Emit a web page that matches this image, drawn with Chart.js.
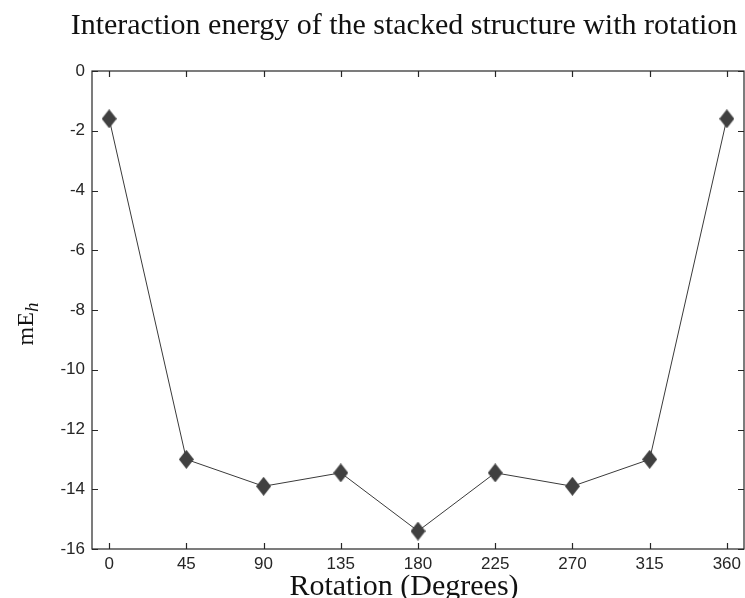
<!DOCTYPE html>
<html>
<head>
<meta charset="utf-8">
<script src="https://cdn.jsdelivr.net/npm/chart.js@4.4.1/dist/chart.umd.min.js"></script>
<style>
  html, body { margin: 0; padding: 0; background: #fff; }
  #myChart { display: block; }
</style>
</head>
<body>
<canvas id="myChart" width="745" height="598"></canvas>
<script>
// rotation angle (degrees) vs interaction energy (mE_h)
const rotations = [0, 45, 90, 135, 180, 225, 270, 315, 360];
const energies = [-1.6, -13.0, -13.9, -13.45, -15.4, -13.45, -13.9, -13.0, -1.6];
const xTicks = [0, 45, 90, 135, 180, 225, 270, 315, 360];
const yTicks = [0, -2, -4, -6, -8, -10, -12, -14, -16];

const titleText = 'Interaction energy of the stacked structure with rotation';
const xTitle = 'Rotation (Degrees)';

const ink = '#262626';
const serif = '"Liberation Serif", "Times New Roman", serif';
const sans = '"Liberation Sans", Arial, sans-serif';

// tall filled diamond marker
function diamond(w, h, color) {
    const c = document.createElement('canvas');
    c.width = w; c.height = h;
    const g = c.getContext('2d');
    g.fillStyle = color;
    g.beginPath();
    g.moveTo(w / 2, 0);
    g.lineTo(w, h / 2);
    g.lineTo(w / 2, h);
    g.lineTo(0, h / 2);
    g.closePath();
    g.fill();
    return c;
}

// box around the plot, inward ticks on all sides, titles
const frame = {
    id: 'frame',
    afterDraw(chart) {
        const { ctx, chartArea: a, scales } = chart;
        const t = 6;
        ctx.save();
        ctx.strokeStyle = ink;
        ctx.lineWidth = 1.2;
        ctx.strokeRect(a.left, a.top, a.right - a.left, a.bottom - a.top);
        ctx.beginPath();
        xTicks.forEach(v => {
            const x = Math.round(scales.x.getPixelForValue(v)) + 0.5;
            ctx.moveTo(x, a.bottom); ctx.lineTo(x, a.bottom - t);
            ctx.moveTo(x, a.top); ctx.lineTo(x, a.top + t);
        });
        yTicks.forEach(v => {
            const y = Math.round(scales.y.getPixelForValue(v)) + 0.5;
            ctx.moveTo(a.left, y); ctx.lineTo(a.left + t, y);
            ctx.moveTo(a.right, y); ctx.lineTo(a.right - t, y);
        });
        ctx.stroke();

        ctx.fillStyle = '#111';
        ctx.textAlign = 'center';
        ctx.textBaseline = 'alphabetic';
        ctx.font = '30px ' + serif;
        ctx.fillText(titleText, 404, 34);
        ctx.fillText(xTitle, 404, 595);

        // y title: mE with italic subscript h
        ctx.translate(33, 324);
        ctx.rotate(-Math.PI / 2);
        ctx.font = '24px ' + serif;
        const w1 = ctx.measureText('mE').width;
        ctx.font = 'italic 19px ' + serif;
        const w2 = ctx.measureText('h').width;
        ctx.textAlign = 'left';
        ctx.font = '24px ' + serif;
        ctx.fillText('mE', -(w1 + w2) / 2, 0);
        ctx.font = 'italic 19px ' + serif;
        ctx.fillText('h', -(w1 + w2) / 2 + w1, 5);
        ctx.restore();
    }
};

const ctx = document.getElementById('myChart').getContext('2d');
const chart = new Chart(ctx, {
    type: 'line',
    data: {
        datasets: [{
            label: 'Interaction energy',
            data: rotations.map((r, i) => ({ x: r, y: energies[i] })),
            borderColor: '#3a3a3a',
            borderWidth: 1,
            pointStyle: diamond(15, 19, '#404040'),
            pointRadius: 9,
            tension: 0,
            clip: false
        }]
    },
    options: {
        responsive: false,
        animation: false,
        layout: { autoPadding: false, padding: { top: 71, right: 1, left: 0, bottom: 0 } },
        plugins: {
            legend: { display: false },
            tooltip: { enabled: false },
            title: { display: false }
        },
        scales: {
            x: {
                type: 'linear',
                min: -10,
                max: 370,
                afterBuildTicks(s) { s.ticks = xTicks.map(v => ({ value: v })); },
                afterFit(s) { s.height = 49; s.paddingLeft = 0; s.paddingRight = 0; },
                grid: { display: false, drawTicks: false },
                border: { display: false },
                ticks: {
                    padding: 5,
                    color: ink,
                    font: { family: sans, size: 17 },
                    maxRotation: 0
                }
            },
            y: {
                min: -16,
                max: 0,
                afterBuildTicks(s) { s.ticks = yTicks.map(v => ({ value: v })); },
                afterFit(s) { s.width = 92; s.paddingTop = 0; s.paddingBottom = 0; },
                grid: { display: false, drawTicks: false },
                border: { display: false },
                ticks: {
                    padding: 7,
                    color: ink,
                    font: { family: sans, size: 17 }
                }
            }
        }
    },
    plugins: [frame]
});
</script>
</body>
</html>
